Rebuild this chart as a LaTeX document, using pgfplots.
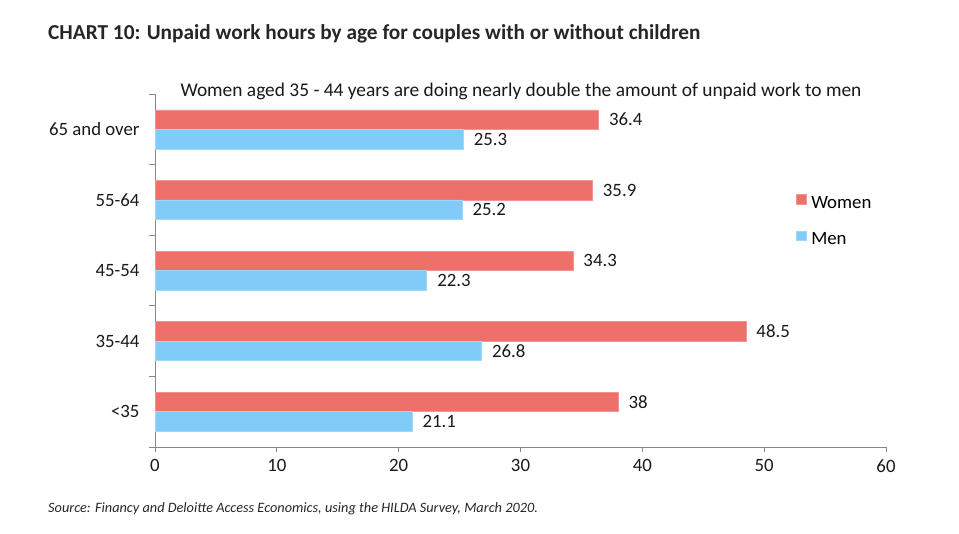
\documentclass[border=0pt]{standalone}
\usepackage{fontspec}
\setmainfont{Carlito}
\usepackage{pgfplots}
\pgfplotsset{compat=1.18}
\definecolor{women}{HTML}{ED706B}
\definecolor{men}{HTML}{80CBF8}
\definecolor{axgray}{HTML}{878787}
\begin{document}
\begin{tikzpicture}[x=1pt,y=1pt]
\useasboundingbox (0,0) rectangle (959,534);
\node[anchor=base west, font=\fontsize{21.3}{23}\selectfont\bfseries, inner sep=0pt, text=black!85] at (48,494) {CHART 10: Unpaid work hours by age for couples with or without children};
\node[anchor=base, font=\fontsize{19.4}{21}\selectfont, inner sep=0pt, text=black!90] at (521,437) {Women aged 35 - 44 years are doing nearly double the amount of unpaid work to men};
\node[anchor=base west, font=\fontsize{14.3}{16}\selectfont\itshape, inner sep=0pt, text=black!85] at (48,21) {Source: Financy and Deloitte Access Economics, using the HILDA Survey, March 2020.};
\begin{axis}[
  at={(155pt,87pt)}, anchor=south west,
  scale only axis, width=731pt, height=353pt,
  xbar, xmin=0, xmax=60, xtick={0,10,...,60},
  ymin=-0.5, ymax=4.5, ytick={0,...,4},
  yticklabels={<35,35-44,45-54,55-64,65 and over},
  minor ytick={-0.5,0.5,...,4.5},
  axis x line*=bottom, axis y line*=left,
  axis line style={axgray, line width=0.8pt, -},
  tick align=outside,
  major tick length=5pt, minor tick length=6pt,
  major y tick style={draw=none},
  minor y tick style={axgray, line width=0.8pt},
  major x tick style={axgray, line width=0.8pt},
  tick label style={font=\fontsize{18.8}{20}\selectfont, text=black!90},
  yticklabel style={xshift=-7pt},
  xticklabel style={yshift=-4pt},
  /pgf/number format/assume math mode=true,
  bar width=0.276,
  nodes near coords,
  nodes near coords style={anchor=west, xshift=7pt, font=\fontsize{18.8}{20}\selectfont, text=black!90},
  legend style={draw=none, fill=none, at={(0.877,0.717)}, anchor=north west,
    font=\fontsize{18.8}{20}\selectfont, row sep=19pt, inner sep=0pt, nodes={inner sep=2pt},
    /tikz/every even column/.append style={column sep=0pt}},
  legend cell align=left,
  legend image code/.code={\fill[#1] (0pt,-1pt) rectangle (9.5pt,8.5pt);},
  clip=false,
]
\addplot[fill=women, draw=women!75!white, line width=0.5pt, bar shift=0.138] coordinates {(38,0) (48.5,1) (34.3,2) (35.9,3) (36.4,4)};
\addlegendentry{\hspace{3pt}Women}
\addplot[fill=men, draw=men!75!white, line width=0.5pt, bar shift=-0.138] coordinates {(21.1,0) (26.8,1) (22.3,2) (25.2,3) (25.3,4)};
\addlegendentry{\hspace{3pt}Men}
\end{axis}
\end{tikzpicture}
\end{document}
